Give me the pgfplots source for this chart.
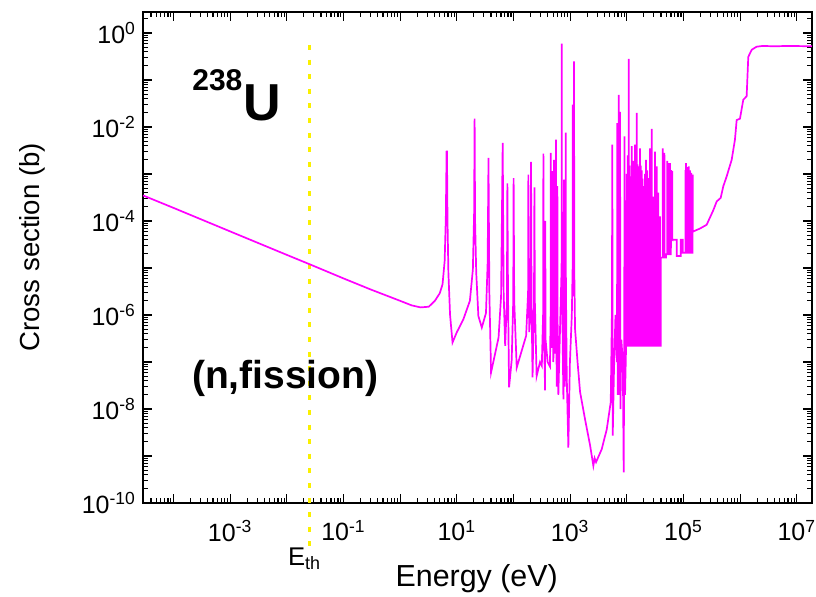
\documentclass[border=0pt]{standalone}
\usepackage{fontspec}
\setmainfont{Liberation Sans}
\usepackage{pgfplots}
\pgfplotsset{compat=1.18}
\definecolor{mag}{RGB}{255,0,255}
\definecolor{yel}{RGB}{250,240,0}
\pgfplotstableread{
E s
2.9e-5 3.5e-4
1e-4 1.9e-4
1e-3 6.0e-5
1e-2 1.9e-5
0.0253 1.2e-5
0.1 6.0e-6
0.3 3.5e-6
1 2.0e-6
1.6 1.6e-6
2.3 1.45e-6
3.2 1.5e-6
4.1 2.0e-6
5.0 2.9e-6
5.6 4.5e-6
6.1 1.4e-5
6.4 1.2e-4
6.6 3.0e-3
6.7 3.0e-3
6.85 1.0e-4
7.1 8e-6
7.6 1.0e-6
8.4 2.6e-7
10 4.3e-7
13 8.0e-7
17 2.0e-6
19.2 9.3e-6
20.2 1.5e-4
20.6 1.5e-2
21.0 1e-4
22 8e-6
24 9.5e-7
27.6 5.4e-7
32.7 1.1e-6
35 1.3e-5
36.2 2.2e-3
37.5 3e-6
40.2 6e-8
54.5 3.3e-7
60.4 2.5e-6
64.5 4.6e-3
67 3e-6
71.3 2.2e-7
76.5 2e-6
78 6.3e-4
80 3e-6
83.6 2.9e-8
93 1.1e-7
99 2e-6
100.5 8.2e-4
103 2e-6
114 7.6e-8
167 3.6e-7
181 3e-6
183 9.7e-4
186 3e-6
190 4.3e-7
200 2e-6
204 1.8e-3
208 2e-6
217 4.7e-8
230 2e-6
234 5.2e-4
238 2e-6
256 5e-8
294 1e-7
316 8.3e-8
333 1e-6
337 2.7e-3
341 1e-6
361 2.5e-8
364 1e-4
368 3e-7
400 1e-7
440 8e-8
452 1e-6
455 2.8e-3
459 1e-6
470 2e-7
490 1e-6
493 1.15e-3
497 1e-6
505 1e-7
517 1e-6
520 2e-3
524 1e-6
540 1.5e-7
561 1e-6
564 5.4e-3
568 1e-6
580 3e-8
592 1e-6
595 5.5e-4
599 1e-6
619 2e-8
640 1e-7
706 1e-5
711 0.59
716 1e-5
740 2e-7
760 1.6e-8
776 1e-6
780 7.6e-4
784 1e-6
800 3e-8
820 3e-7
832 5e-6
836 7.6e-3
841 5e-6
870 5e-8
929 1.5e-9
990 1e-7
1070 1e-6
1105 1e-5
1111 0.030
1118 1e-5
1140 2.5e-6
1165 1e-5
1172 0.25
1180 1e-5
1220 5e-7
1350 1e-7
1496 2.3e-8
1832 6e-9
2244 1.7e-9
2566 6.2e-10
2700 9e-10
2865 7.4e-10
3606 1.4e-9
4423 3.7e-9
5200 1.4e-8
5450 1e-6
5546 4.2e-3
5600 1e-7
5640 2.7e-9
5900 5e-8
6300 1e-6
6700 1e-7
6800 0.012
6900 2e-8
7100 5e-7
7200 0.048
7300 1e-7
7500 2e-8
7590 0.021
7700 1e-8
8000 3e-7
8500 1e-7
8800 4.5e-10
9000 2e-7
9100 0.0063
9300 2e-8
9700 2.2e-7
9950 2.2e-7
10000 1.0e-3
10050 2.2e-7
10350 2.2e-7
10400 2.5e-3
10450 2.2e-7
10750 2.2e-7
10800 0.28
10850 2.2e-7
11150 2.2e-7
11200 1.5e-3
11250 2.2e-7
11650 2.2e-7
11700 8.9e-4
11750 2.2e-7
12150 2.2e-7
12200 3.9e-3
12250 2.2e-7
12650 2.2e-7
12700 1.7e-3
12750 2.2e-7
12950 2.2e-7
13000 1.9e-3
13050 2.2e-7
13400 2.2e-7
13450 1.2e-3
13500 2.2e-7
13900 2.2e-7
13950 4.2e-3
14000 2.2e-7
14450 2.2e-7
14500 2.5e-3
14550 2.2e-7
14950 2.2e-7
15000 0.020
15050 2.2e-7
15450 2.2e-7
15500 1.6e-3
15550 2.2e-7
15950 2.2e-7
16000 1.45e-3
16050 2.2e-7
16450 2.2e-7
16500 9e-4
16550 2.2e-7
17050 2.2e-7
17100 3.5e-3
17150 2.2e-7
17650 2.2e-7
17700 1.5e-3
17750 2.2e-7
18250 2.2e-7
18300 1.2e-3
18350 2.2e-7
18950 2.2e-7
19000 8e-4
19050 2.2e-7
19550 2.2e-7
19600 5.5e-4
19650 2.2e-7
20750 2.2e-7
20800 1.0e-3
20850 2.2e-7
21750 2.2e-7
21800 2e-3
21850 2.2e-7
22950 2.2e-7
23000 1.2e-3
23050 2.2e-7
24250 2.2e-7
24300 8.2e-4
24350 2.2e-7
25550 2.2e-7
25600 3.5e-3
25650 2.2e-7
27450 2.2e-7
27500 9.1e-3
27550 2.2e-7
29350 2.2e-7
29400 3.3e-4
29450 2.2e-7
31350 2.2e-7
31400 3e-3
31450 2.2e-7
33650 2.2e-7
33700 1.45e-3
33750 2.2e-7
35950 2.2e-7
36000 4e-4
36050 2.2e-7
38450 2.2e-7
38500 1.26e-4
38550 2.2e-7
39600 2.2e-7
39700 1.66e-5
42900 1.66e-5
43000 3.5e-3
43100 1.66e-5
45900 1.66e-5
46000 2.8e-3
46100 1.66e-5
49100 1.66e-5
49200 1.95e-5
51700 1.95e-5
51800 1.9e-3
51900 1.95e-5
54700 1.95e-5
54800 1.7e-3
54900 1.95e-5
57700 1.95e-5
57800 1.7e-3
57900 1.95e-5
59400 1.95e-5
61000 5e-5
61100 1.2e-3
61200 5e-5
63300 4.5e-5
63400 1.15e-3
63500 4e-5
75700 4e-5
75800 1.8e-5
89300 1.8e-5
89400 4e-5
96900 4e-5
97000 2.1e-5
107800 2.1e-5
108000 1.2e-3
108200 2.1e-5
110400 2.1e-5
110600 1.7e-3
110800 2.1e-5
113300 2.1e-5
113500 1.3e-3
113700 2.1e-5
116500 2.1e-5
116700 9.7e-4
116900 2.1e-5
119800 2.1e-5
120000 1.4e-3
120200 2.1e-5
123200 2.1e-5
123400 1.45e-3
123600 2.1e-5
126300 2.1e-5
126500 1.1e-3
126700 2.1e-5
129800 2.1e-5
130000 1.2e-3
130200 2.1e-5
133300 2.1e-5
133500 1.0e-3
133700 2.1e-5
137200 2.1e-5
137400 1.05e-3
137600 2.1e-5
140800 2.1e-5
141000 9e-4
141200 2.1e-5
144800 2.1e-5
145000 9.7e-4
146000 6e-5
149000 6e-5
195000 6.9e-5
256000 8.3e-5
336000 1.7e-4
385000 2.6e-4
453000 3.1e-4
504000 5.5e-4
578000 8.9e-4
708000 2e-3
809000 5.4e-3
867000 1.4e-2
991000 1.5e-2
1.135e6 3.8e-2
1.30e6 4.5e-2
1.39e6 0.31
1.60e6 0.44
1.95e6 0.51
2.5e6 0.53
4e6 0.52
7e6 0.53
1.85e7 0.52
}\xsdata
\begin{document}
\begin{tikzpicture}
\useasboundingbox (-71.5pt,-46.5pt) rectangle (336.5pt,251.5pt);
\begin{axis}[
  at={(0pt,0pt)}, anchor=south west,
  scale only axis, width=334.5pt, height=245.5pt,
  xmode=log, ymode=log,
  xmin=2.9e-5, xmax=1.85e7, ymin=1e-10, ymax=2.79,
  clip=false,
  axis line style={line width=1pt},
  major tick length=4.5pt, minor tick length=2.6pt,
  every tick/.style={black, line width=0.6pt},
  tick align=inside,
  xtick={1e-4,1e-3,1e-2,1e-1,1,1e1,1e2,1e3,1e4,1e5,1e6,1e7},
  xticklabels={,10\textsuperscript{-3},,10\textsuperscript{-1},,10\textsuperscript{1},,10\textsuperscript{3},,10\textsuperscript{5},,10\textsuperscript{7}},
  minor xtick={3e-5,4e-5,5e-5,6e-5,7e-5,8e-5,9e-5,
    2e-4,3e-4,4e-4,5e-4,6e-4,7e-4,8e-4,9e-4,
    2e-3,3e-3,4e-3,5e-3,6e-3,7e-3,8e-3,9e-3,
    2e-2,3e-2,4e-2,5e-2,6e-2,7e-2,8e-2,9e-2,
    2e-1,3e-1,4e-1,5e-1,6e-1,7e-1,8e-1,9e-1,
    2,3,4,5,6,7,8,9,
    20,30,40,50,60,70,80,90,
    200,300,400,500,600,700,800,900,
    2e3,3e3,4e3,5e3,6e3,7e3,8e3,9e3,
    2e4,3e4,4e4,5e4,6e4,7e4,8e4,9e4,
    2e5,3e5,4e5,5e5,6e5,7e5,8e5,9e5,
    2e6,3e6,4e6,5e6,6e6,7e6,8e6,9e6},
  ytick={1e-10,1e-9,1e-8,1e-7,1e-6,1e-5,1e-4,1e-3,1e-2,1e-1,1},
  yticklabels={10\textsuperscript{-10},,10\textsuperscript{-8},,10\textsuperscript{-6},,10\textsuperscript{-4},,10\textsuperscript{-2},,10\textsuperscript{0}},
  minor ytick={2e-10,3e-10,4e-10,5e-10,6e-10,7e-10,8e-10,9e-10,
    2e-9,3e-9,4e-9,5e-9,6e-9,7e-9,8e-9,9e-9,
    2e-8,3e-8,4e-8,5e-8,6e-8,7e-8,8e-8,9e-8,
    2e-7,3e-7,4e-7,5e-7,6e-7,7e-7,8e-7,9e-7,
    2e-6,3e-6,4e-6,5e-6,6e-6,7e-6,8e-6,9e-6,
    2e-5,3e-5,4e-5,5e-5,6e-5,7e-5,8e-5,9e-5,
    2e-4,3e-4,4e-4,5e-4,6e-4,7e-4,8e-4,9e-4,
    2e-3,3e-3,4e-3,5e-3,6e-3,7e-3,8e-3,9e-3,
    2e-2,3e-2,4e-2,5e-2,6e-2,7e-2,8e-2,9e-2,
    2e-1,3e-1,4e-1,5e-1,6e-1,7e-1,8e-1,9e-1,2},
  tick label style={font=\fontsize{12.5}{13}\selectfont},
  xticklabel style={yshift=-5pt},
  xlabel={Energy (eV)}, ylabel={Cross section (b)},
  xlabel style={font=\fontsize{15.2}{16}\selectfont, at={(axis description cs:0.4988,-0.1703)}, anchor=base},
  ylabel style={font=\fontsize{13.8}{15}\selectfont, at={(axis description cs:-0.154,0.521)}, anchor=base},
]
\addplot[yel, line width=1.5pt, dash pattern=on 2.5pt off 4.8pt] coordinates {(0.0253,0.556) (0.0253,8.7e-12)};
\addplot[mag, line width=0.85pt] table[x=E, y=s] {\xsdata};
\node[anchor=base west, inner sep=0pt, font=\fontsize{15}{15}\selectfont\bfseries] at (rel axis cs:0.0732,0.841) {238};
\node[anchor=base west, inner sep=0pt, font=\fontsize{26}{26}\selectfont\bfseries] at (rel axis cs:0.149,0.780) {U};
\node[anchor=base west, inner sep=0pt, font=\fontsize{19.5}{20}\selectfont\bfseries] at (rel axis cs:0.0728,0.234) {(n,fission)};
\node[anchor=base west, inner sep=0pt, font=\fontsize{12.8}{13}\selectfont] at (rel axis cs:0.2163,-0.1263) {E\textsubscript{th}};
\end{axis}
\end{tikzpicture}
\end{document}
